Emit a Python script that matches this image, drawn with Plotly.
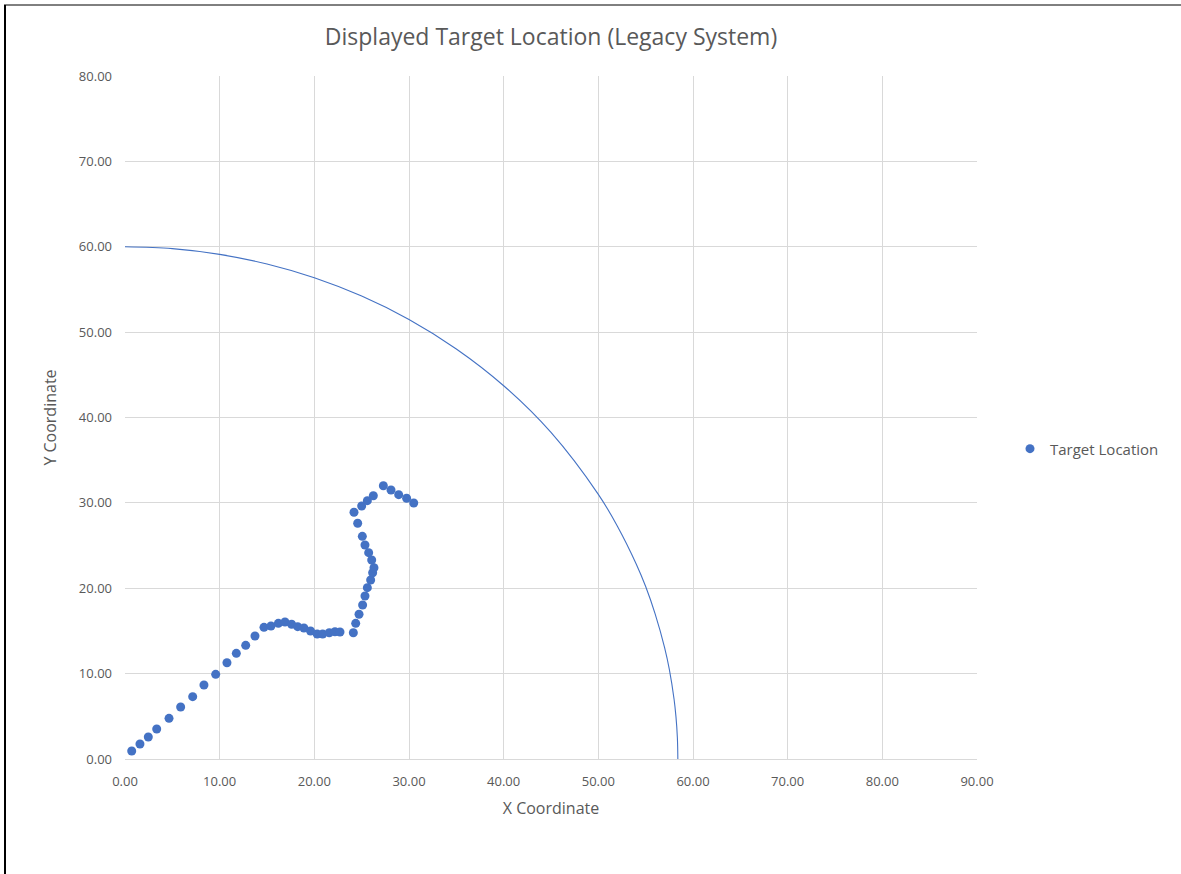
import plotly.graph_objects as go

# Target location points
target_x = [0.71, 1.58, 2.46, 3.35, 4.65, 5.88, 7.15, 8.34, 9.58, 10.77, 11.76, 12.75, 13.73,
            14.68, 15.42, 16.2, 16.9, 17.6, 18.24, 18.9, 19.6, 20.3, 20.88, 21.58, 22.18, 22.71,
            24.12, 24.37, 24.72, 25.1, 25.35, 25.6, 25.95, 26.16, 26.3, 26.06, 25.74, 25.35, 25.07,
            24.58, 24.19, 25.0, 25.6, 26.23, 27.29, 28.1, 28.91, 29.75, 30.5]
target_y = [0.94, 1.76, 2.58, 3.51, 4.76, 6.09, 7.30, 8.67, 9.92, 11.28, 12.38, 13.31, 14.41,
            15.42, 15.58, 15.89, 16.05, 15.78, 15.5, 15.34, 14.99, 14.64, 14.64, 14.79, 14.91, 14.88,
            14.79, 15.89, 16.95, 18.04, 19.09, 20.07, 20.97, 21.82, 22.4, 23.31, 24.17, 25.07, 26.08,
            27.61, 28.9, 29.63, 30.26, 30.84, 32.01, 31.51, 30.96, 30.54, 29.99]

# Boundary arc
arc_x = [0, 5, 10, 15, 20, 25, 30, 35, 40, 45, 50, 52, 54, 55, 56, 57, 57.5, 58, 58.2, 58.35, 58.4]
arc_y = [60, 59.78, 59.11, 57.98, 56.37, 54.22, 51.48, 48.03, 43.72, 38.25, 31.0, 27.3, 22.85,
         20.2, 17.0, 13.05, 10.5, 7.0, 4.96, 2.5, 0]

x_ticks = [0, 10, 20, 30, 40, 50, 60, 70, 80, 90]
y_ticks = [0, 10, 20, 30, 40, 50, 60, 70, 80]

FONT = "Open Sans"
GREY = "#595959"
BLUE = "#4472C4"

fig = go.Figure()
fig.add_trace(go.Scatter(x=arc_x, y=arc_y, mode="lines", line=dict(color=BLUE, width=1.1, shape="spline"),
                         showlegend=False, hoverinfo="skip"))
fig.add_trace(go.Scatter(x=target_x, y=target_y, mode="markers", name="Target Location",
                         marker=dict(color=BLUE, size=9)))

axis_common = dict(showgrid=True, gridcolor="#d9d9d9", gridwidth=1, zeroline=False,
                   tickfont=dict(family=FONT, size=13, color=GREY), tickformat=".2f",
                   title_font=dict(family=FONT, size=16, color=GREY))

fig.update_xaxes(range=[0, 90], tickvals=x_ticks, showline=True, linecolor="#d9d9d9", linewidth=1,
                 title_text="X Coordinate", ticklabelstandoff=10, title_standoff=14, **axis_common)
fig.update_yaxes(range=[0, 80], tickvals=y_ticks, showline=False,
                 title_text="Y Coordinate", ticklabelstandoff=12, title_standoff=18, **axis_common)

fig.update_layout(
    width=1181, height=874,
    margin=dict(l=125, r=204, t=76, b=115),
    paper_bgcolor="white", plot_bgcolor="white",
    title=dict(text="Displayed Target Location (Legacy System)", x=0.5, xref="paper", xanchor="center",
               y=1 - 37 / 874, yanchor="middle",
               font=dict(family=FONT, size=23, color=GREY)),
    legend=dict(x=(1010 - 125) / 852, y=0.454, xanchor="left", yanchor="middle",
                font=dict(family=FONT, size=15, color=GREY), itemwidth=30),
    shapes=[
        dict(type="line", xref="paper", yref="paper",
             x0=(5 - 125) / 852, x1=(5 - 125) / 852, y0=(759 - 5) / 683, y1=(759 - 880) / 683,
             line=dict(color="black", width=2)),
        dict(type="line", xref="paper", yref="paper",
             x0=(4 - 125) / 852, x1=(1185 - 125) / 852, y0=(759 - 5) / 683, y1=(759 - 5) / 683,
             line=dict(color="black", width=1)),
    ],
)

fig.write_html("out.html", config={"displayModeBar": False},
               post_script="document.body.style.margin='0';document.body.style.overflow='hidden';")
